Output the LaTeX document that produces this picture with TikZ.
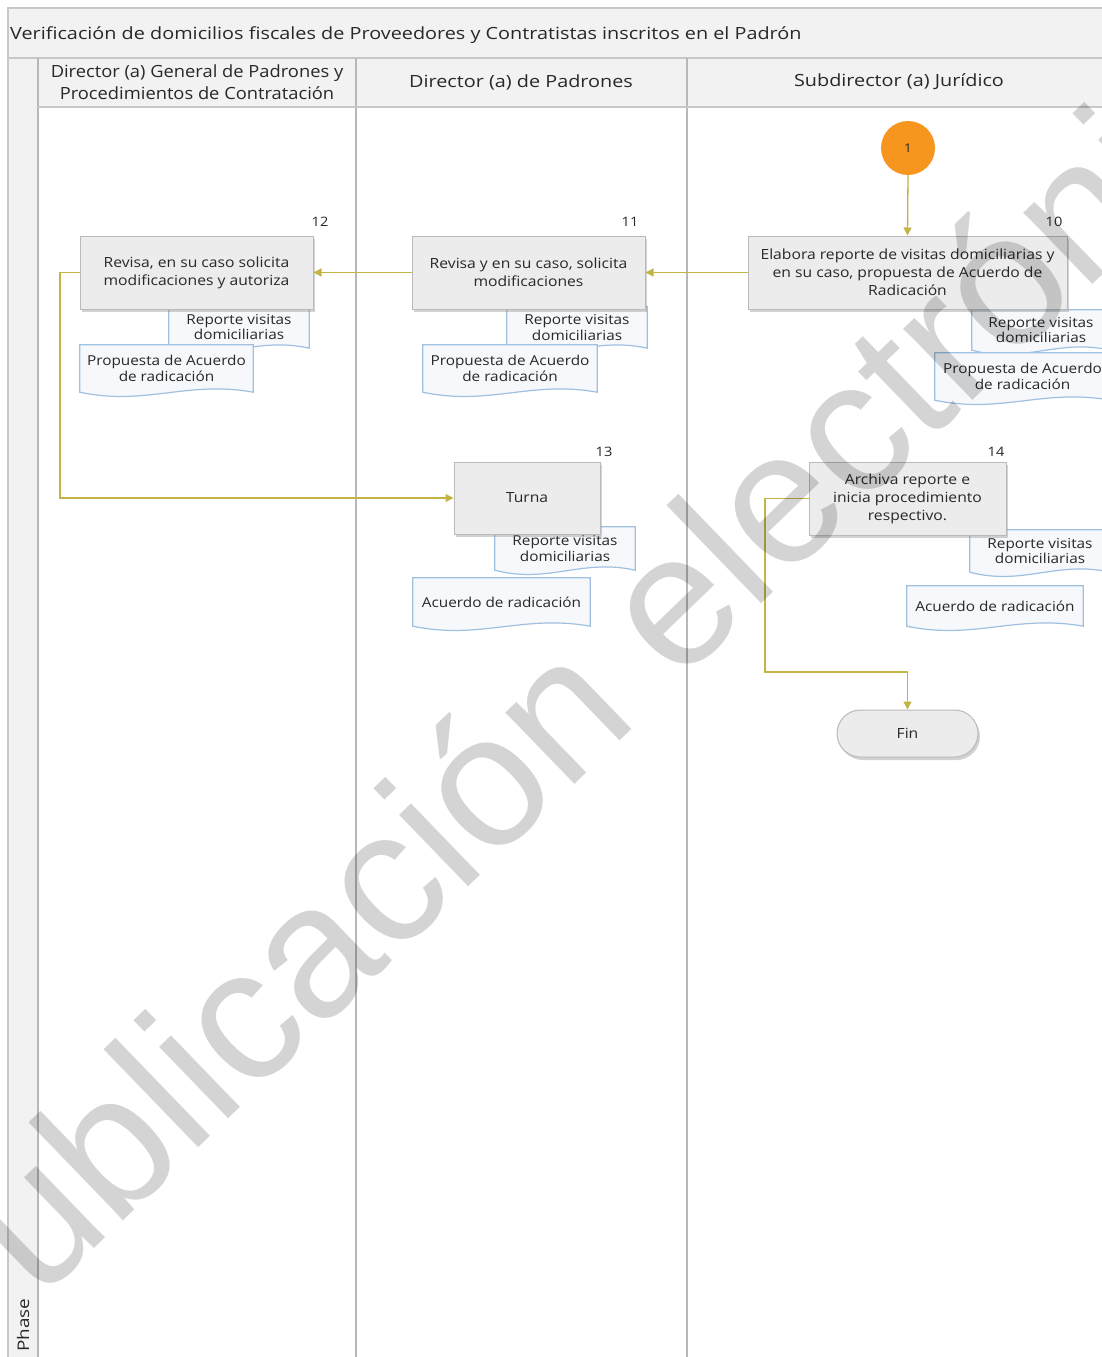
\documentclass[tikz,border=0pt]{standalone}
\usepackage{fontspec}
\setmainfont{Open Sans}[FakeStretch=1.18]
\newfontfamily\boxfont{Open Sans}[FakeStretch=1.12]
\newfontfamily\hdrfont{Open Sans}[FakeStretch=1.09]
\newfontfamily\wmfont{Liberation Sans}
\usetikzlibrary{calc,arrows.meta,shapes.misc,shadows}
\definecolor{framec}{RGB}{200,200,200}
\definecolor{bandc}{RGB}{242,242,242}
\definecolor{lanec}{RGB}{178,186,186}
\definecolor{boxfill}{RGB}{236,236,236}
\definecolor{boxline}{RGB}{186,186,186}
\definecolor{docfill}{RGB}{246,248,252}
\definecolor{docline}{RGB}{160,192,224}
\definecolor{flowc}{RGB}{196,180,70}
\definecolor{orangec}{RGB}{246,150,30}
\definecolor{txtc}{RGB}{40,40,40}
\tikzset{
  every node/.style={text=txtc},
  procbox/.style={draw=boxline, fill=boxfill, line width=1pt, align=center,
    font=\boxfont\fontsize{14}{18}\selectfont, inner sep=2pt,
    drop shadow={shadow xshift=2pt, shadow yshift=-3pt, opacity=0.35}},
  docbox/.style={draw=none, align=center, font=\boxfont\fontsize{13.7}{15.5}\selectfont, inner sep=0pt},
  docedge/.style={draw=docline, fill=docfill, line width=1.2pt},
  numlbl/.style={font=\boxfont\fontsize{13}{16}\selectfont, inner sep=0pt},
  hdr/.style={font=\fontsize{16.8}{22}\selectfont, align=center, inner sep=0pt},
  flowline/.style={draw=flowc, line width=1.3pt, -{Triangle[length=8pt,width=8pt]}},
  lanel/.style={draw=lanec, line width=2pt},
}
\newcommand\docwave[1]{%
  \path[docedge] (#1.south west) -- (#1.north west) -- (#1.north east) -- (#1.south east)
    .. controls ($(#1.south west)!0.62!(#1.south east)+(0,-12)$) and ($(#1.south west)!0.38!(#1.south east)+(0,14)$) .. (#1.south west) -- cycle;
  \node[docbox] at (#1.center) {\csname doctext#1\endcsname};}
\begin{document}
\begin{tikzpicture}[x=1pt,y=-1pt]
\useasboundingbox (0,0) rectangle (1102,1357);
% frame and lanes
\fill[white] (0,0) rectangle (1102,1357);
\draw[framec, line width=1.2pt, fill=bandc] (8,8) rectangle (1120,58);
\draw[framec, line width=1.2pt, fill=bandc] (8,58) rectangle (1120,107);
\draw[framec, line width=1.2pt, fill=bandc] (8,58) rectangle (38,1370);
\draw[lanel] (38,58) -- (38,1370);
\draw[lanel] (356,58) -- (356,1370);
\draw[lanel] (687,58) -- (687,1370);
\draw[framec, line width=1.2pt] (38,107) -- (1120,107);
\node[font=\fontsize{16.8}{22}\selectfont, anchor=west, inner sep=0pt] (title) at (10,35)
  {Verificación de domicilios fiscales de Proveedores y Contratistas inscritos en el Padrón};
\node[hdr, font=\hdrfont\fontsize{16.8}{22}\selectfont] (h1) at (197,82) {Director (a) General de Padrones y\\Procedimientos de Contratación};
\node[hdr] (h2) at (521,82) {Director (a) de Padrones};
\node[hdr] (h3) at (899,82) {Subdirector (a) Jurídico};
\node[font=\fontsize{16}{20}\selectfont, rotate=90, anchor=west, inner sep=0pt] (phase) at (23,1352) {Phase};
% documents
\def\doctextdxa{Reporte visitas\\domiciliarias}
\def\doctextdxb{Propuesta de Acuerdo\\de radicación}
\def\doctextdya{Reporte visitas\\domiciliarias}
\def\doctextdyb{Propuesta de Acuerdo\\de radicación}
\def\doctextdza{Reporte visitas\\domiciliarias}
\def\doctextdzb{Propuesta de Acuerdo\\de radicación}
\def\doctextdua{Reporte visitas\\domiciliarias}
\def\doctextdub{Acuerdo de radicación}
\def\doctextdva{Reporte visitas\\domiciliarias}
\def\doctextdvb{Acuerdo de radicación}
\path node[minimum width=140, minimum height=42, inner sep=0pt] (dxa) at (239,327) {};
\docwave{dxa}
\path node[minimum width=173, minimum height=47, inner sep=0pt] (dxb) at (166.5,368.5) {};
\docwave{dxb}
\path node[minimum width=140, minimum height=41, inner sep=0pt] (dya) at (577,327.5) {};
\docwave{dya}
\path node[minimum width=174, minimum height=47, inner sep=0pt] (dyb) at (510,368.5) {};
\docwave{dyb}
\path node[minimum width=138, minimum height=40, inner sep=0pt] (dza) at (1041,330) {};
\docwave{dza}
\path node[minimum width=175, minimum height=47, inner sep=0pt] (dzb) at (1022.5,376.5) {};
\docwave{dzb}
\path node[minimum width=140, minimum height=43, inner sep=0pt] (dua) at (565,548.5) {};
\docwave{dua}
\path node[minimum width=177, minimum height=48, inner sep=0pt] (dub) at (501.5,602) {};
\docwave{dub}
\path node[minimum width=140, minimum height=42, inner sep=0pt] (dva) at (1040,551) {};
\docwave{dva}
\path node[minimum width=176, minimum height=40, inner sep=0pt] (dvb) at (995,606) {};
\docwave{dvb}
% process boxes
\node[procbox, minimum width=319, minimum height=73] (b10) at (907.5,272.5)
  {Elabora reporte de visitas domiciliarias y\\en su caso, propuesta de Acuerdo de\\Radicación};
\node[procbox, minimum width=233, minimum height=73] (b11) at (528.5,272.5)
  {Revisa y en su caso, solicita\\modificaciones};
\node[procbox, minimum width=233, minimum height=73] (b12) at (196.5,272.5)
  {Revisa, en su caso solicita\\modificaciones y autoriza};
\node[procbox, minimum width=146, minimum height=72] (b13) at (527,498) {Turna};
\node[procbox, minimum width=197, minimum height=73] (b14) at (907.5,498.5)
  {Archiva reporte e\\inicia procedimiento\\respectivo.};
\node[procbox, rounded rectangle, minimum width=145, minimum height=47] (fin) at (907.5,733.5) {Fin};
\node[circle, fill=orangec, minimum size=54, inner sep=0pt, font=\boxfont\fontsize{12}{14}\selectfont] (c1) at (908,148) {1};
% numbers
\node[numlbl] (n10) at (1054,222) {10};
\node[numlbl] (n11) at (630,222) {11};
\node[numlbl] (n12) at (320,222) {12};
\node[numlbl] (n13) at (604,452) {13};
\node[numlbl] (n14) at (996,452) {14};
% connectors
\coordinate (k1) at (60,272.5);
\coordinate (k2) at (765,672);
\draw[flowline] (c1.south) -- (b10.north);
\draw[flowline] (b10.west) -- (b11.east);
\draw[flowline] (b11.west) -- (b12.east);
\draw[flowline] (b12.west) -- (k1) |- (b13.west);
\draw[flowline] (b14.west) -| (k2) -| (fin.north);
% watermark
\node[text=black, text opacity=0.17, rotate=44, inner sep=0pt, font=\wmfont\fontsize{188}{188}\selectfont] (wm) at (593,672) {Publicación electrónica};
\end{tikzpicture}
\end{document}
